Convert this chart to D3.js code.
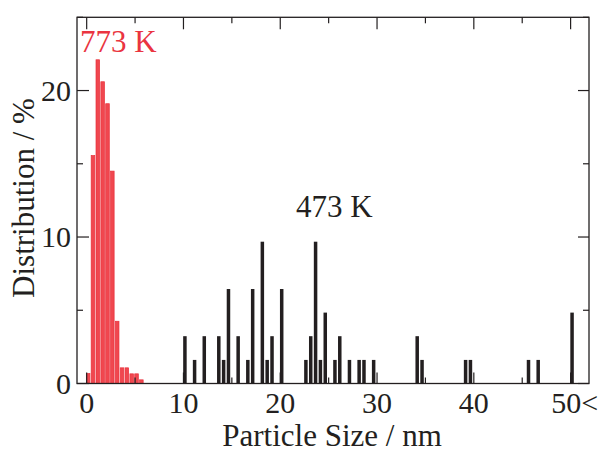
<!DOCTYPE html>
<html>
<head>
<meta charset="utf-8">
<script src="https://cdn.jsdelivr.net/npm/d3@7"></script>
<style>
    body { margin: 0; background: white; }
    text { font-family: "Liberation Serif", "Times New Roman", serif; }
</style>
</head>
<body>
<div id="canvas"></div>
<script>
"use strict"

/*Size of the canvas and the plot frame*/
let svgWidth = 606;
let svgHeight = 452;
let frameLeft = 77;
let frameRight = 589;
let frameTop = 17.3;
let frameBottom = 383.5;

/*773 K sample: particle size (nm, bin centre) and distribution (%)*/
let sizes773 = [0.15, 0.65, 1.15, 1.65, 2.15, 2.65, 3.15, 3.65, 4.15, 4.65, 5.15, 5.65];
let dist773 = [0.68, 15.56, 22.1, 20.6, 19.1, 14.5, 4.25, 1.07, 1.07, 0.66, 0.66, 0.25];

/*473 K sample*/
let sizes473 = [10.15, 11.15, 12.15, 13.65, 14.15, 14.65, 15.65, 16.65, 17.15, 18.15, 18.65,
    19.15, 20.15, 22.65, 23.15, 23.65, 24.15, 24.65, 25.65, 26.15, 27.15, 28.15, 28.65,
    29.65, 34.15, 34.65, 39.15, 39.65, 45.65, 46.65, 50.15];
let dist473 = [3.23, 1.61, 3.23, 3.23, 1.61, 6.45, 3.23, 1.61, 6.45, 9.68, 1.61,
    3.23, 6.45, 1.61, 3.23, 9.68, 1.61, 4.84, 1.61, 3.23, 1.61, 1.61, 1.61,
    1.61, 3.23, 1.61, 1.61, 1.61, 1.61, 1.61, 4.84];

/*Axis ticks*/
let xMajorTicks = [0, 10, 20, 30, 40, 50];
let xMajorLabels = ["0", "10", "20", "30", "40", "50<"];
let xMinorTicks = [5, 15, 25, 35, 45];
let yMajorTicks = [0, 10, 20];
let yMinorTicks = [5, 15, 25];

let ink = "#231f20";
let redInk = "#ea3440";

let svg = d3.select("#canvas")
    .append("svg")
    .attr("width", svgWidth)
    .attr("height", svgHeight);

let xScale = d3.scaleLinear()
    .domain([-1, 51.9])
    .range([frameLeft, frameRight]);

let yScale = d3.scaleLinear()
    .domain([0, 25])
    .range([frameBottom, frameTop]);

/*Bars of the 773 K sample (red)*/
svg.selectAll(".bar773")
    .data(sizes773)
    .join("rect")
    .attr("class", "bar773")
    .attr("x", (d) => xScale(d) - 1.8)
    .attr("width", 3.6)
    .attr("y", (d, i) => yScale(dist773[i]))
    .attr("height", (d, i) => yScale(0) - yScale(dist773[i]))
    .attr("fill", "#f0474f")
    .attr("stroke", "#e8303b")
    .attr("stroke-width", 0.7);

/*Bars of the 473 K sample (black)*/
svg.selectAll(".bar473")
    .data(sizes473)
    .join("rect")
    .attr("class", "bar473")
    .attr("x", (d) => xScale(d) - 1.75)
    .attr("width", 3.5)
    .attr("y", (d, i) => yScale(dist473[i]))
    .attr("height", (d, i) => yScale(0) - yScale(dist473[i]))
    .attr("fill", ink);

/*Inward ticks on all four sides*/
function tick(x1, y1, x2, y2) {
    svg.append("line")
        .attr("x1", x1).attr("y1", y1)
        .attr("x2", x2).attr("y2", y2)
        .attr("stroke", ink)
        .attr("stroke-width", 1.2);
}

xMajorTicks.forEach(function (t) {
    tick(xScale(t), frameBottom, xScale(t), frameBottom - 11);
    tick(xScale(t), frameTop, xScale(t), frameTop + 12);
});
xMinorTicks.forEach(function (t) {
    tick(xScale(t), frameBottom, xScale(t), frameBottom - 6);
    tick(xScale(t), frameTop, xScale(t), frameTop + 6);
});
yMajorTicks.forEach(function (t) {
    tick(frameLeft, yScale(t), frameLeft + 12, yScale(t));
    tick(frameRight, yScale(t), frameRight - 11, yScale(t));
});
yMinorTicks.forEach(function (t) {
    tick(frameLeft, yScale(t), frameLeft + 6, yScale(t));
    tick(frameRight, yScale(t), frameRight - 6, yScale(t));
});

/*Plot frame*/
svg.append("rect")
    .attr("x", frameLeft)
    .attr("y", frameTop)
    .attr("width", frameRight - frameLeft)
    .attr("height", frameBottom - frameTop)
    .attr("fill", "none")
    .attr("stroke", ink)
    .attr("stroke-width", 1.3);

/*Tick labels*/
xMajorTicks.forEach(function (t, i) {
    svg.append("text")
        .attr("x", xScale(t) + (i == 5 ? 4 : 0))
        .attr("y", 413)
        .attr("text-anchor", "middle")
        .attr("font-size", 30)
        .attr("fill", ink)
        .text(xMajorLabels[i]);
});

yMajorTicks.forEach(function (t) {
    svg.append("text")
        .attr("x", 71)
        .attr("y", yScale(t) + 10)
        .attr("text-anchor", "end")
        .attr("font-size", 30)
        .attr("fill", ink)
        .text(t);
});

/*Axis titles*/
svg.append("text")
    .attr("x", 332)
    .attr("y", 446)
    .attr("text-anchor", "middle")
    .attr("font-size", 31)
    .attr("fill", ink)
    .text("Particle Size / nm");

svg.append("text")
    .attr("transform", "translate(34," + 198 + ") rotate(-90)")
    .attr("text-anchor", "middle")
    .attr("font-size", 31)
    .attr("fill", ink)
    .text("Distribution / %");

/*Series labels*/
svg.append("text")
    .attr("x", 80)
    .attr("y", 52)
    .attr("font-size", 31)
    .attr("fill", redInk)
    .text("773 K");

svg.append("text")
    .attr("x", 296)
    .attr("y", 217)
    .attr("font-size", 31)
    .attr("fill", ink)
    .text("473 K");
</script>
</body>
</html>
